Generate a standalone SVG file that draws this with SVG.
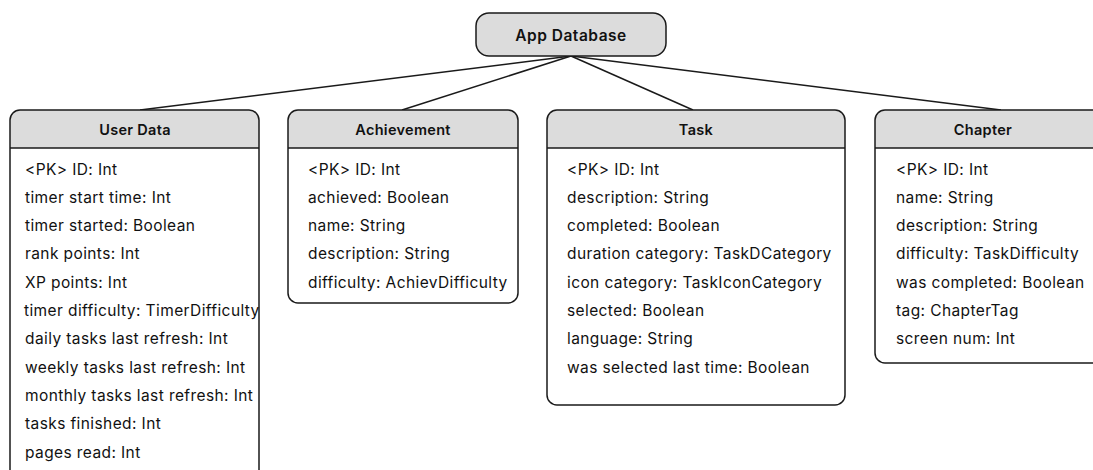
<svg xmlns="http://www.w3.org/2000/svg" width="1093" height="470" viewBox="0 0 1093 470">
<style>
.box{fill:none;stroke:#1a1a1a;stroke-width:1.5}
.hdr{fill:#dcdcdc;stroke:none}
.sep{stroke:#1a1a1a;stroke-width:1.5}
.conn{stroke:#1a1a1a;stroke-width:1.5;fill:none}
.title{font-family:Inter,"Liberation Sans",sans-serif;font-weight:600;font-size:14.5px;letter-spacing:0.3px;fill:#111;text-anchor:middle;dominant-baseline:central}
.field{font-family:Inter,"Liberation Sans",sans-serif;font-size:15.5px;letter-spacing:0.4px;fill:#111;dominant-baseline:central}
</style>
<defs>
<clipPath id="cu"><rect x="10" y="110" width="249" height="400" rx="10"/></clipPath>
<clipPath id="ca"><rect x="288" y="110" width="230" height="193" rx="10"/></clipPath>
<clipPath id="ct"><rect x="547" y="110" width="298" height="295" rx="10"/></clipPath>
<clipPath id="cc"><rect x="875" y="110" width="230" height="253" rx="10"/></clipPath>
</defs>
<g id="connectors">
<line class="conn" x1="571" y1="56" x2="140" y2="110"/>
<line class="conn" x1="571" y1="56" x2="402" y2="110"/>
<line class="conn" x1="571" y1="56" x2="693" y2="110"/>
<line class="conn" x1="571" y1="56" x2="1001" y2="110"/>
</g>
<g id="app-database">
<rect x="476" y="13" width="190" height="43" rx="13" fill="#dcdcdc" stroke="#1a1a1a" stroke-width="1.5"/>
<text class="title" x="571" y="35" style="font-size:15.5px;letter-spacing:0.5px">App Database</text>
</g>
<g id="user-data">
<rect class="hdr" x="10" y="110" width="249" height="38" clip-path="url(#cu)"/>
<rect class="box" x="10" y="110" width="249" height="400" rx="10"/>
<line class="sep" x1="10" y1="148" x2="259" y2="148"/>
<text class="title" x="135" y="129">User Data</text>
<text class="field" x="25" y="169">&lt;PK&gt; ID: Int</text>
<text class="field" x="25" y="197.3">timer start time: Int</text>
<text class="field" x="25" y="225.6">timer started: Boolean</text>
<text class="field" x="25" y="253.9">rank points: Int</text>
<text class="field" x="25" y="282.2">XP points: Int</text>
<text class="field" x="24" y="310.5">timer difficulty: TimerDifficulty</text>
<text class="field" x="25" y="338.8">daily tasks last refresh: Int</text>
<text class="field" x="25" y="367.1">weekly tasks last refresh: Int</text>
<text class="field" x="25" y="395.4">monthly tasks last refresh: Int</text>
<text class="field" x="25" y="423.7">tasks finished: Int</text>
<text class="field" x="25" y="452">pages read: Int</text>
</g>
<g id="achievement">
<rect class="hdr" x="288" y="110" width="230" height="38" clip-path="url(#ca)"/>
<rect class="box" x="288" y="110" width="230" height="193" rx="10"/>
<line class="sep" x1="288" y1="148" x2="518" y2="148"/>
<text class="title" x="403" y="129">Achievement</text>
<text class="field" x="308" y="169">&lt;PK&gt; ID: Int</text>
<text class="field" x="308" y="197.3">achieved: Boolean</text>
<text class="field" x="308" y="225.6">name: String</text>
<text class="field" x="308" y="253.9">description: String</text>
<text class="field" x="308" y="282.2">difficulty: AchievDifficulty</text>
</g>
<g id="task">
<rect class="hdr" x="547" y="110" width="298" height="38" clip-path="url(#ct)"/>
<rect class="box" x="547" y="110" width="298" height="295" rx="10"/>
<line class="sep" x1="547" y1="148" x2="845" y2="148"/>
<text class="title" x="696" y="129">Task</text>
<text class="field" x="567" y="169">&lt;PK&gt; ID: Int</text>
<text class="field" x="567" y="197.3">description: String</text>
<text class="field" x="567" y="225.6">completed: Boolean</text>
<text class="field" x="567" y="253.9">duration category: TaskDCategory</text>
<text class="field" x="567" y="282.2">icon category: TaskIconCategory</text>
<text class="field" x="567" y="310.5">selected: Boolean</text>
<text class="field" x="567" y="338.8">language: String</text>
<text class="field" x="567" y="367.1">was selected last time: Boolean</text>
</g>
<g id="chapter">
<rect class="hdr" x="875" y="110" width="230" height="38" clip-path="url(#cc)"/>
<rect class="box" x="875" y="110" width="230" height="253" rx="10"/>
<line class="sep" x1="875" y1="148" x2="1105" y2="148"/>
<text class="title" x="983" y="129">Chapter</text>
<text class="field" x="896" y="169">&lt;PK&gt; ID: Int</text>
<text class="field" x="896" y="197.3">name: String</text>
<text class="field" x="896" y="225.6">description: String</text>
<text class="field" x="896" y="253.9">difficulty: TaskDifficulty</text>
<text class="field" x="896" y="282.2">was completed: Boolean</text>
<text class="field" x="896" y="310.5">tag: ChapterTag</text>
<text class="field" x="896" y="338.8">screen num: Int</text>
</g>
</svg>
